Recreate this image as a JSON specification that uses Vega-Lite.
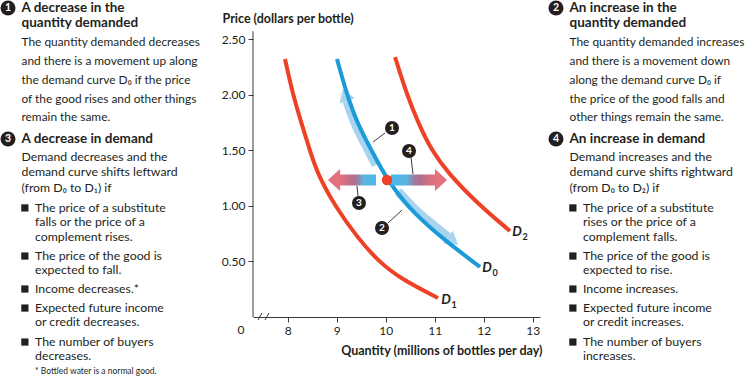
{
"$schema":"https://vega.github.io/schema/vega-lite/v6.json",
"padding":0,
"bounds":"flush",
"spacing":8,
"background":"white",
"config":{"view":{"stroke":null},"font":"Lato","text":{"font":"Lato"},
 "axis":{"labelFont":"Lato","titleFont":"Lato","grid":false,"labelColor":"#231f20","titleColor":"#231f20","domainColor":"#3a3a3a","tickColor":"#3a3a3a"}},
"datasets":{
"left":[
{"role":"num","col":0,"line":0,"text":"1"},
{"role":"head","col":1,"line":0,"text":"A decrease in the"},
{"role":"head","col":1,"line":0.88,"text":"quantity demanded"},
{"role":"body","col":1,"line":2,"text":"The quantity demanded decreases"},
{"role":"body","col":1,"line":3.12,"text":"and there is a movement up along"},
{"role":"body","col":1,"line":4.24,"text":"the demand curve D₀ if the price"},
{"role":"body","col":1,"line":5.35,"text":"of the good rises and other things"},
{"role":"body","col":1,"line":6.41,"text":"remain the same."},
{"role":"num","col":0,"line":7.71,"text":"3"},
{"role":"head","col":1,"line":7.71,"text":"A decrease in demand"},
{"role":"small","col":1,"line":8.76,"text":"Demand decreases and the"},
{"role":"small","col":1,"line":9.65,"text":"demand curve shifts leftward"},
{"role":"small","col":1,"line":10.59,"text":"(from D₀  to D₁) if"},
{"role":"bullet","col":1.25,"line":11.76},
{"role":"item","col":2,"line":11.76,"text":"The price of a substitute"},
{"role":"item","col":2,"line":12.59,"text":"falls or the price of a"},
{"role":"item","col":2,"line":13.47,"text":"complement rises."},
{"role":"bullet","col":1.25,"line":14.59},
{"role":"item","col":2,"line":14.59,"text":"The price of the good is"},
{"role":"item","col":2,"line":15.41,"text":"expected to fall."},
{"role":"bullet","col":1.25,"line":16.53},
{"role":"item","col":2,"line":16.53,"text":"Income decreases.*"},
{"role":"bullet","col":1.25,"line":17.65},
{"role":"item","col":2,"line":17.65,"text":"Expected future income"},
{"role":"item","col":2,"line":18.47,"text":"or credit decreases."},
{"role":"bullet","col":1.25,"line":19.65},
{"role":"item","col":2,"line":19.65,"text":"The number of buyers"},
{"role":"item","col":2,"line":20.47,"text":"decreases."},
{"role":"foot","col":2,"line":21.38,"text":"* Bottled water is a normal good."}
],
"right":[
{"role":"num","col":0,"line":0,"text":"2"},
{"role":"head","col":1,"line":0,"text":"An increase in the"},
{"role":"head","col":1,"line":0.88,"text":"quantity demanded"},
{"role":"body","col":1,"line":2,"text":"The quantity demanded increases"},
{"role":"body","col":1,"line":3.12,"text":"and there is a movement down"},
{"role":"body","col":1,"line":4.24,"text":"along the demand curve D₀ if"},
{"role":"body","col":1,"line":5.35,"text":"the price of the good falls and"},
{"role":"body","col":1,"line":6.41,"text":"other things remain the same."},
{"role":"num","col":0,"line":7.71,"text":"4"},
{"role":"head","col":1,"line":7.71,"text":"An increase in demand"},
{"role":"small","col":1,"line":8.76,"text":"Demand increases and the"},
{"role":"small","col":1,"line":9.65,"text":"demand curve shifts rightward"},
{"role":"small","col":1,"line":10.59,"text":"(from D₀  to D₂) if"},
{"role":"bullet","col":1.25,"line":11.76},
{"role":"item","col":2,"line":11.76,"text":"The price of a substitute"},
{"role":"item","col":2,"line":12.59,"text":"rises or the price of a"},
{"role":"item","col":2,"line":13.47,"text":"complement falls."},
{"role":"bullet","col":1.25,"line":14.59},
{"role":"item","col":2,"line":14.59,"text":"The price of the good is"},
{"role":"item","col":2,"line":15.41,"text":"expected to rise."},
{"role":"bullet","col":1.25,"line":16.53},
{"role":"item","col":2,"line":16.53,"text":"Income increases."},
{"role":"bullet","col":1.25,"line":17.65},
{"role":"item","col":2,"line":17.65,"text":"Expected future income"},
{"role":"item","col":2,"line":18.47,"text":"or credit increases."},
{"role":"bullet","col":1.25,"line":19.65},
{"role":"item","col":2,"line":19.65,"text":"The number of buyers"},
{"role":"item","col":2,"line":20.47,"text":"increases."}
],
"yaxisline":[{"q":7.29,"p":0,"p2":2.57}],
"breaks":[{"q":7.392,"p":-0.027,"q2":7.474,"p2":0.036},{"q":7.535,"p":-0.027,"q2":7.617,"p2":0.036}],
"zero":[{"q":7.045,"p":0,"text":"0"}],
"curves":[
{"curve":"D1","q":7.943,"p":2.32},{"curve":"D1","q":8.106,"p":1.996},{"curve":"D1","q":8.29,"p":1.727},{"curve":"D1","q":8.453,"p":1.493},{"curve":"D1","q":8.617,"p":1.277},{"curve":"D1","q":8.963,"p":0.998},{"curve":"D1","q":9.412,"p":0.719},{"curve":"D1","q":9.841,"p":0.504},{"curve":"D1","q":10.29,"p":0.348},{"curve":"D1","q":11.066,"p":0.171},
{"curve":"D0","q":9.004,"p":2.32},{"curve":"D0","q":9.208,"p":1.996},{"curve":"D0","q":9.433,"p":1.727},{"curve":"D0","q":9.71,"p":1.497},{"curve":"D0","q":10.025,"p":1.232},{"curve":"D0","q":10.555,"p":0.935},{"curve":"D0","q":11.249,"p":0.674},{"curve":"D0","q":11.923,"p":0.45},
{"curve":"D2","q":10.188,"p":2.338},{"curve":"D2","q":10.433,"p":1.996},{"curve":"D2","q":10.68,"p":1.727},{"curve":"D2","q":10.943,"p":1.493},{"curve":"D2","q":11.27,"p":1.295},{"curve":"D2","q":11.861,"p":1.025},{"curve":"D2","q":12.535,"p":0.773}
],
"bands":[
{"band":"b1","q":9.8,"p":1.367},{"band":"b1","q":9.657,"p":1.493},{"band":"b1","q":9.371,"p":1.727},{"band":"b1","q":9.208,"p":1.942},
{"band":"b2","q":10.25,"p":1.13},{"band":"b2","q":10.6,"p":0.96},{"band":"b2","q":10.9,"p":0.85},{"band":"b2","q":11.27,"p":0.72}
],
"bandheads":[{"band":"b1","q":9.178,"p":1.984},{"band":"b2","q":11.347,"p":0.693}],
"bars":[{"dir":"left","q":9.045,"q2":9.8,"p":1.182,"p2":1.282},{"dir":"right","q":10.106,"q2":11.025,"p":1.182,"p2":1.282}],
"arrowheads":[{"dir":"left","q":8.943,"p":1.232},{"dir":"right","q":11.127,"p":1.232}],
"dot":[{"q":10.025,"p":1.232}],
"leaders":[{"q":9.739,"p":1.574,"q2":9.984,"p2":1.655},{"q":10.514,"p":1.439,"q2":10.555,"p2":1.286},{"q":9.433,"p":1.088,"q2":9.412,"p2":1.178},{"q":10.045,"p":0.845,"q2":10.331,"p2":0.962}],
"annos":[{"q":10.127,"p":1.7,"text":"1"},{"q":9.923,"p":0.8,"text":"2"},{"q":9.453,"p":1.025,"text":"3"},{"q":10.474,"p":1.493,"text":"4"}],
"curvelabels":[{"q":11.229,"p":0.153,"text":"D","sub":"1"},{"q":12.066,"p":0.441,"text":"D","sub":"0"},{"q":12.678,"p":0.764,"text":"D","sub":"2"}]
},
"hconcat":[
{
"width":245,"height":317,
"data":{"name":"left"},
"encoding":{
 "x":{"field":"col","type":"quantitative","scale":{"domain":[0,2],"range":[8,35]},"axis":null},
 "y":{"field":"line","type":"quantitative","scale":{"domain":[0,20],"range":[8,348]},"axis":null}
},
"layer":[
{"transform":[{"filter":"datum.role==='num'"}],"mark":{"type":"point","shape":"circle","filled":true,"size":225,"color":"#231f20","opacity":1}},
{"transform":[{"filter":"datum.role==='num'"}],"mark":{"type":"text","color":"white","fontWeight":"bold","fontSize":10.5,"align":"center","baseline":"middle"},"encoding":{"text":{"field":"text"}}},
{"transform":[{"filter":"datum.role==='head'"}],"mark":{"type":"text","fontWeight":"bold","fontSize":13.5,"align":"left","baseline":"middle","color":"#231f20"},"encoding":{"text":{"field":"text"}}},
{"transform":[{"filter":"datum.role==='body'"}],"mark":{"type":"text","fontSize":11.9,"align":"left","baseline":"middle","color":"#231f20"},"encoding":{"text":{"field":"text"}}},
{"transform":[{"filter":"datum.role==='small' || datum.role==='item'"}],"mark":{"type":"text","fontSize":12.3,"align":"left","baseline":"middle","color":"#231f20"},"encoding":{"text":{"field":"text"}}},
{"transform":[{"filter":"datum.role==='bullet'"}],"mark":{"type":"point","shape":"square","filled":true,"size":52,"color":"#231f20","opacity":1}},
{"transform":[{"filter":"datum.role==='foot'"}],"mark":{"type":"text","fontSize":8.5,"align":"left","baseline":"middle","color":"#231f20"},"encoding":{"text":{"field":"text"}}}
]
},
{
"width":287,"height":317,
"encoding":{
 "x":{"field":"q","type":"quantitative","scale":{"domain":[7.29,13.147],"nice":false,"zero":false},
  "axis":{"values":[8,9,10,11,12,13],"title":"Quantity (millions of bottles per day)","titleFontSize":12.5,"titleFontWeight":"bold","titleAlign":"right","titleX":289,"titleY":33,"titleBaseline":"middle","labelFontSize":12,"labelPadding":3,"tickSize":5,"labelFlush":false}},
 "y":{"field":"p","type":"quantitative","scale":{"domain":[0,2.851],"nice":false,"zero":false},
  "axis":{"values":[0.5,1,1.5,2,2.5],"format":".2f","domain":false,"title":"Price (dollars per bottle)","titleAngle":0,"titleAlign":"left","titleX":-31,"titleY":18,"titleBaseline":"middle","titleFontSize":12.5,"titleFontWeight":"bold","labelFontSize":12,"labelPadding":3,"tickSize":5}}
},
"layer":[
{"data":{"name":"yaxisline"},"mark":{"type":"rule","color":"#3a3a3a","strokeWidth":1},"encoding":{"y2":{"field":"p2"}}},
{"data":{"name":"breaks"},"mark":{"type":"rule","color":"#3a3a3a","strokeWidth":1},"encoding":{"x2":{"field":"q2"},"y2":{"field":"p2"}}},
{"data":{"name":"zero"},"mark":{"type":"text","fontSize":12,"baseline":"top","dy":8,"align":"center","color":"#231f20"},"encoding":{"text":{"field":"text"}}},
{"data":{"name":"bands"},"mark":{"type":"line","color":"#a9d4f0","strokeWidth":9,"strokeCap":"butt","interpolate":"basis"},"encoding":{"detail":{"field":"band"}}},
{"data":{"name":"bandheads"},"transform":[{"filter":"datum.band==='b1'"}],"mark":{"type":"point","shape":"M -1 0.6 L 0 -1 L 1 0.6 Z","angle":-19,"size":256,"filled":true,"color":"#a9d4f0","opacity":1}},
{"data":{"name":"bandheads"},"transform":[{"filter":"datum.band==='b2'"}],"mark":{"type":"point","shape":"M -0.6 -1 L 1 0 L -0.6 1 Z","angle":37,"size":256,"filled":true,"color":"#a9d4f0","opacity":1}},
{"data":{"name":"curves"},"mark":{"type":"line","strokeWidth":4,"interpolate":"basis","strokeCap":"butt"},"encoding":{"color":{"field":"curve","type":"nominal","scale":{"domain":["D0","D1","D2"],"range":["#1b9bd7","#ee4125","#ee4125"]},"legend":null},"detail":{"field":"curve"}}},
{"data":{"name":"bars"},"transform":[{"filter":"datum.dir==='left'"}],"mark":{"type":"rect","fill":{"gradient":"linear","x1":0,"y1":0,"x2":1,"y2":0,"stops":[{"offset":0,"color":"#e2707f"},{"offset":0.2,"color":"#d47082"},{"offset":0.38,"color":"#b26d8b"},{"offset":0.52,"color":"#9a7fa6"},{"offset":0.65,"color":"#5ab3df"},{"offset":1,"color":"#4ab9e8"}]}},"encoding":{"x2":{"field":"q2"},"y2":{"field":"p2"}}},
{"data":{"name":"bars"},"transform":[{"filter":"datum.dir==='right'"}],"mark":{"type":"rect","fill":{"gradient":"linear","x1":0,"y1":0,"x2":1,"y2":0,"stops":[{"offset":0,"color":"#4ab9e8"},{"offset":0.35,"color":"#5ab3df"},{"offset":0.5,"color":"#9a7fa6"},{"offset":0.65,"color":"#b26d8b"},{"offset":0.85,"color":"#d47082"},{"offset":1,"color":"#e2707f"}]}},"encoding":{"x2":{"field":"q2"},"y2":{"field":"p2"}}},
{"data":{"name":"arrowheads"},"transform":[{"filter":"datum.dir==='left'"}],"mark":{"type":"point","shape":"M 0.55 -1 L -0.55 0 L 0.55 1 Z","size":484,"filled":true,"color":"#e2707f","opacity":1}},
{"data":{"name":"arrowheads"},"transform":[{"filter":"datum.dir==='right'"}],"mark":{"type":"point","shape":"M -0.55 -1 L 0.55 0 L -0.55 1 Z","size":484,"filled":true,"color":"#e2707f","opacity":1}},
{"data":{"name":"dot"},"mark":{"type":"point","shape":"circle","filled":true,"size":110,"color":"#ec4126","opacity":1}},
{"data":{"name":"leaders"},"mark":{"type":"rule","color":"#3a3a3a","strokeWidth":1},"encoding":{"x2":{"field":"q2"},"y2":{"field":"p2"}}},
{"data":{"name":"annos"},"mark":{"type":"point","shape":"circle","filled":true,"size":196,"color":"#231f20","opacity":1}},
{"data":{"name":"annos"},"mark":{"type":"text","color":"white","fontWeight":"bold","fontSize":10,"align":"center","baseline":"middle"},"encoding":{"text":{"field":"text"}}},
{"data":{"name":"curvelabels"},"mark":{"type":"text","fontWeight":"bold","fontStyle":"italic","fontSize":13.5,"align":"center","baseline":"middle","color":"#231f20"},"encoding":{"text":{"field":"text"}}},
{"data":{"name":"curvelabels"},"mark":{"type":"text","fontWeight":"bold","fontSize":9,"align":"center","baseline":"middle","dx":8,"dy":5,"color":"#231f20"},"encoding":{"text":{"field":"sub"}}}
]
},
{
"width":203,"height":317,
"data":{"name":"right"},
"encoding":{
 "x":{"field":"col","type":"quantitative","scale":{"domain":[0,2],"range":[8,35]},"axis":null},
 "y":{"field":"line","type":"quantitative","scale":{"domain":[0,20],"range":[8,348]},"axis":null}
},
"layer":[
{"transform":[{"filter":"datum.role==='num'"}],"mark":{"type":"point","shape":"circle","filled":true,"size":225,"color":"#231f20","opacity":1}},
{"transform":[{"filter":"datum.role==='num'"}],"mark":{"type":"text","color":"white","fontWeight":"bold","fontSize":10.5,"align":"center","baseline":"middle"},"encoding":{"text":{"field":"text"}}},
{"transform":[{"filter":"datum.role==='head'"}],"mark":{"type":"text","fontWeight":"bold","fontSize":13.5,"align":"left","baseline":"middle","color":"#231f20"},"encoding":{"text":{"field":"text"}}},
{"transform":[{"filter":"datum.role==='body'"}],"mark":{"type":"text","fontSize":11.9,"align":"left","baseline":"middle","color":"#231f20"},"encoding":{"text":{"field":"text"}}},
{"transform":[{"filter":"datum.role==='small' || datum.role==='item'"}],"mark":{"type":"text","fontSize":12.3,"align":"left","baseline":"middle","color":"#231f20"},"encoding":{"text":{"field":"text"}}},
{"transform":[{"filter":"datum.role==='bullet'"}],"mark":{"type":"point","shape":"square","filled":true,"size":52,"color":"#231f20","opacity":1}}
]
}
]
}
